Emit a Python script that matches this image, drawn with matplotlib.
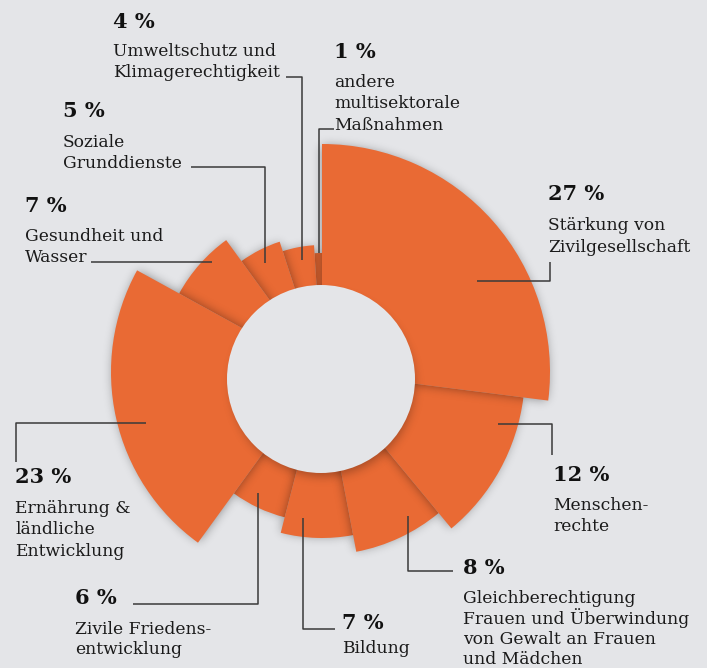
import numpy as np
import matplotlib
matplotlib.use("Agg")
import matplotlib.pyplot as plt
from matplotlib.patches import Wedge, Circle

# shares in percent, clockwise from 12 o'clock
shares = [27, 12, 8, 7, 6, 23, 7, 5, 4, 1]
labels = [
    "Stärkung von\nZivilgesellschaft",
    "Menschen-\nrechte",
    "Gleichberechtigung\nFrauen und Überwindung\nvon Gewalt an Frauen\nund Mädchen",
    "Bildung",
    "Zivile Friedens-\nentwicklung",
    "Ernährung &\nländliche\nEntwicklung",
    "Gesundheit und\nWasser",
    "Soziale\nGrunddienste",
    "Umweltschutz und\nKlimagerechtigkeit",
    "andere\nmultisektorale\nMaßnahmen",
]

# outer radius of each slice (px)
radii = [228, 203, 183, 166, 150, 211, 163, 137, 127, 119]
# drawing order, bottom to top
draw_order = [9, 8, 7, 6, 4, 3, 2, 1, 5, 0]

BG = "#E4E5E8"
ORANGE = "#E96A34"
LINE = "#3a3a3a"
W, H = 707, 668
cx, cy = 322, 372          # slice centre
hx, hy, hr = 321, 379, 94  # hole

# label layout: x, baseline of percent, baseline of first text line, line step, leader path
layout = [
    (548, 200, 230, 22, [(550, 262), (550, 281), (477, 281)]),
    (553, 481, 510, 21, [(498, 424), (552, 424), (552, 455)]),
    (463, 574, 603, 20.5, [(408, 516), (408, 571), (453, 571)]),
    (342, 629, 653, 21, [(303, 518), (303, 629), (335, 629)]),
    (75, 604, 634, 20.5, [(258, 493), (258, 604), (133, 604)]),
    (15, 483, 513, 21.5, [(146, 423), (16, 423), (16, 462)]),
    (25, 212, 241, 21, [(91, 262), (212, 262)]),
    (63, 117, 147, 20.5, [(191, 167), (265, 167), (265, 263)]),
    (113, 28, 56, 21, [(286, 77), (302, 77), (302, 260)]),
    (334, 58, 87, 21.5, [(334, 129), (319, 129), (319, 253)]),
]


def blur(mask, sigma):
    rad = int(3 * sigma)
    t = np.arange(-rad, rad + 1)
    k = np.exp(-0.5 * (t / sigma) ** 2)
    k /= k.sum()
    out = np.apply_along_axis(lambda r: np.convolve(r, k, mode="same"), 1, mask)
    out = np.apply_along_axis(lambda c: np.convolve(c, k, mode="same"), 0, out)
    return out


def shadow_img(mask, sigma, strength):
    a = np.clip(blur(mask.astype(float), sigma) * strength, 0, 1)
    img = np.zeros((H, W, 4))
    img[..., 3] = a
    return img


xs, ys = np.meshgrid(np.arange(W) + 0.5, np.arange(H) + 0.5)
dist = np.hypot(xs - cx, ys - cy)
ang = np.degrees(np.arctan2(xs - cx, -(ys - cy))) % 360

starts = np.concatenate([[0], np.cumsum(shares)[:-1]]) * 3.6
ends = np.cumsum(shares) * 3.6

fig = plt.figure(figsize=(W / 100, H / 100), dpi=100, facecolor=BG)
ax = fig.add_axes([0, 0, 1, 1])
ax.set_facecolor(BG)
ax.axis("off")

z = 1
for i in draw_order:
    m = (dist <= radii[i] - 2) & (ang >= starts[i]) & (ang < ends[i])
    ax.imshow(shadow_img(m, 5, 0.4), extent=(0, W, H, 0), zorder=z,
              interpolation="bilinear", aspect="auto")
    ax.add_patch(Wedge((cx, cy), radii[i], starts[i] - 90, ends[i] - 90,
                       facecolor=ORANGE, edgecolor="none", zorder=z + 0.5))
    z += 1

# hole with soft shadow, mostly below
hm = np.hypot(xs - hx - 2, ys - hy - 6) <= hr - 3
ax.imshow(shadow_img(hm, 5, 0.3), extent=(0, W, H, 0), zorder=z,
          interpolation="bilinear", aspect="auto")
ax.add_patch(Circle((hx, hy), hr, facecolor=BG, edgecolor="none", zorder=z + 0.5))
ax.set_xlim(0, W)
ax.set_ylim(H, 0)

for i, (x, yp, yt, step, path) in enumerate(layout):
    px, py = zip(*path)
    ax.plot(px, py, color=LINE, lw=1.1, zorder=50, solid_capstyle="butt")
    ax.text(x, yp, f"{shares[i]} %", fontsize=15, fontweight="bold",
            family="DejaVu Serif", color="#111111", va="baseline", ha="left", zorder=51)
    for j, line in enumerate(labels[i].split("\n")):
        ax.text(x, yt + j * step, line, fontsize=12.3, family="DejaVu Serif",
                color="#1a1a1a", va="baseline", ha="left", zorder=51)

fig.savefig("out.png", dpi=100, facecolor=BG)
